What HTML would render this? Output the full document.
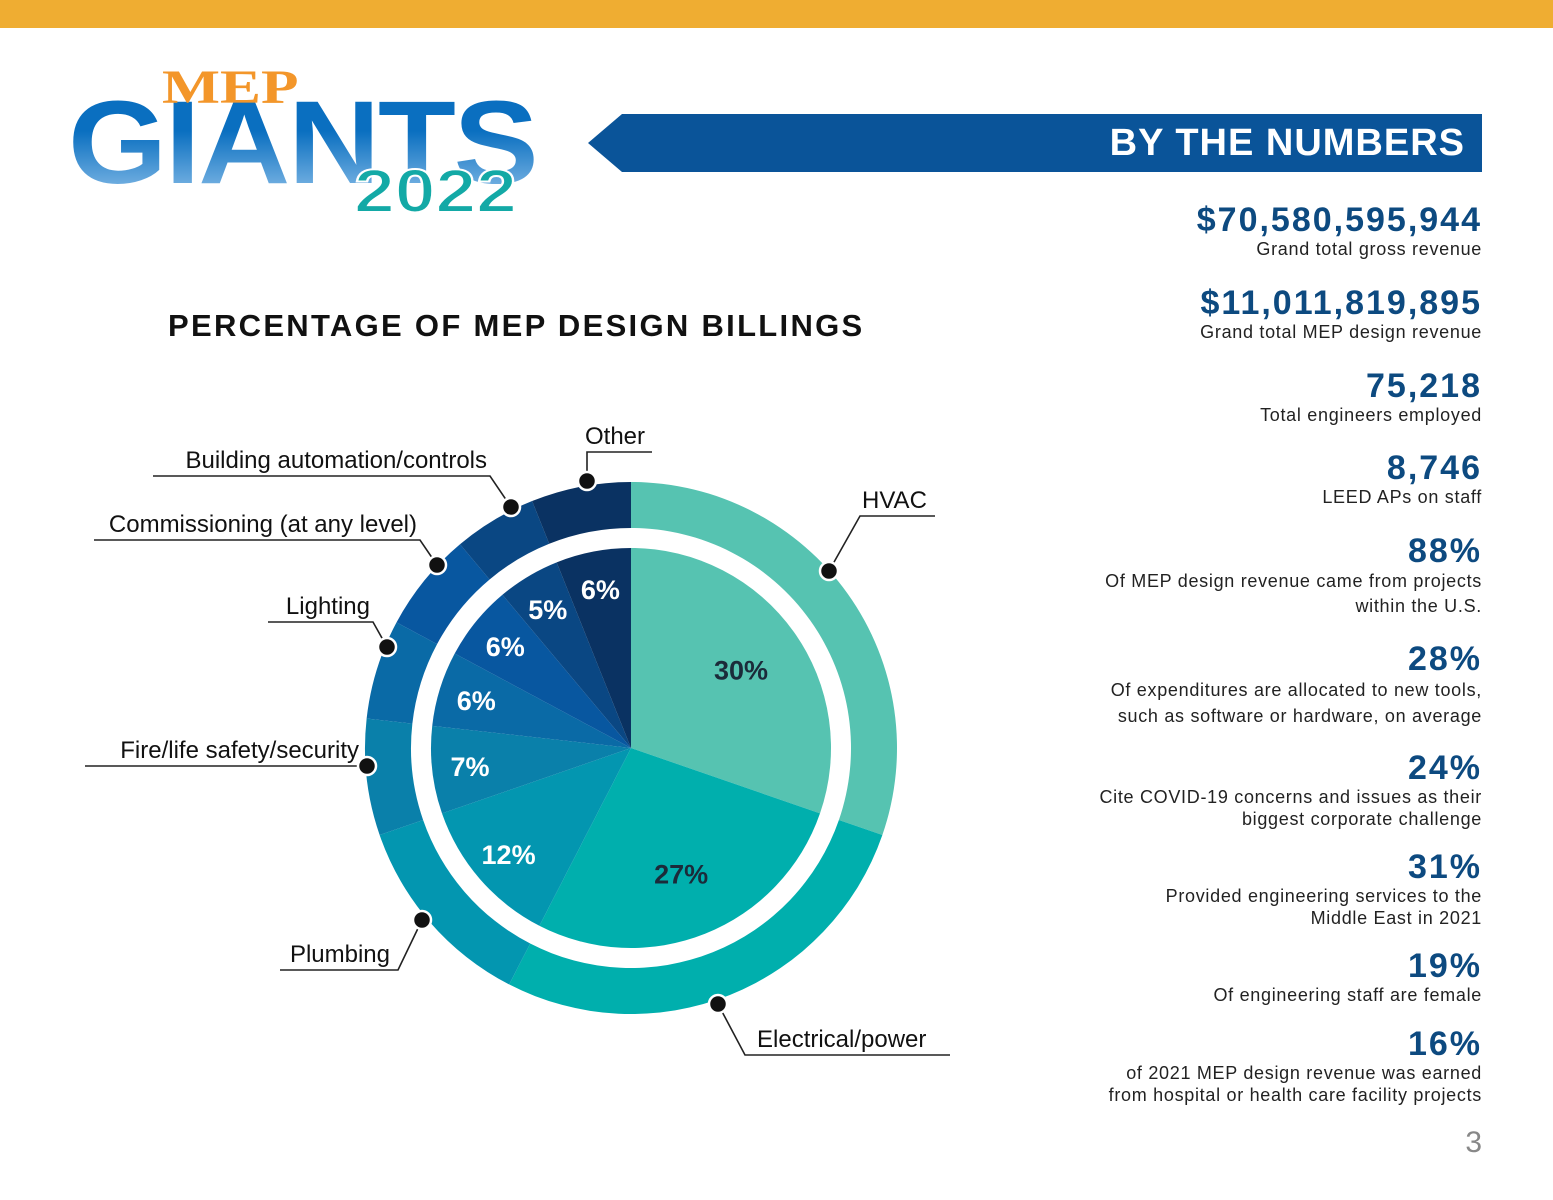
<!DOCTYPE html>
<html><head><meta charset="utf-8"><style>
body{margin:0;width:1553px;height:1200px;background:#fff;position:relative;overflow:hidden;font-family:"Liberation Sans",sans-serif}
.abs{position:absolute}
.stat{position:absolute;right:71px;text-align:right;color:#222}
.stat b{display:block;font-size:34px;color:#0d4a80;font-weight:bold;letter-spacing:2px;line-height:36px}
.stat span{display:block;font-size:18px;line-height:22px;letter-spacing:0.7px}
</style></head><body>
<div class="abs" style="left:0;top:0;width:1553px;height:28px;background:#efad32"></div>
<div>
<div class="abs" style="left:68px;top:83px;font:bold 118px 'Liberation Sans',sans-serif;letter-spacing:-2px;background:linear-gradient(#0a6fc0 40%,#8fc1ea);-webkit-background-clip:text;color:transparent;line-height:120px;transform:scaleX(1.08);transform-origin:left top">GIANTS</div>
<div class="abs" style="left:162px;top:60px;font:bold 48px 'Liberation Serif',serif;color:#f3962a;transform:scaleX(1.28);transform-origin:left top;line-height:56px">MEP</div>
<div class="abs" style="left:354px;top:158px;font:bold 61px 'Liberation Sans',sans-serif;color:#13a9a6;-webkit-text-stroke:2px #fff;line-height:66px;transform:scaleX(1.2);transform-origin:left top">2022</div>
</div>
<svg class="abs" style="left:0;top:0" width="1553" height="1200"><polygon points="622,114 1482,114 1482,172 622,172 588,143" fill="#0a5499"/></svg>
<div class="abs" style="right:88px;top:122px;color:#fff;font-weight:bold;font-size:38px;letter-spacing:1px">BY THE NUMBERS</div>
<div class="abs" style="left:168px;top:308px;font-weight:bold;font-size:31px;letter-spacing:2.3px;color:#111">PERCENTAGE OF MEP DESIGN BILLINGS</div>

<div class="stat" style="top:202px"><b>$70,580,595,944</b><span>Grand total gross revenue</span></div>
<div class="stat" style="top:285px"><b>$11,011,819,895</b><span>Grand total MEP design revenue</span></div>
<div class="stat" style="top:368px"><b>75,218</b><span>Total engineers employed</span></div>
<div class="stat" style="top:450px"><b>8,746</b><span>LEED APs on staff</span></div>
<div class="stat" style="top:533px"><b>88%</b><span style="line-height:25px">Of MEP design revenue came from projects<br>within the U.S.</span></div>
<div class="stat" style="top:641px"><b>28%</b><span style="line-height:26px">Of expenditures are allocated to new tools,<br>such as software or hardware, on average</span></div>
<div class="stat" style="top:750px"><b>24%</b><span>Cite COVID-19 concerns and issues as their<br>biggest corporate challenge</span></div>
<div class="stat" style="top:849px"><b>31%</b><span>Provided engineering services to the<br>Middle East in 2021</span></div>
<div class="stat" style="top:948px"><b>19%</b><span>Of engineering staff are female</span></div>
<div class="stat" style="top:1026px"><b>16%</b><span>of 2021 MEP design revenue was earned<br>from hospital or health care facility projects</span></div>
<div class="abs" style="right:71px;top:1126px;font-size:30px;color:#888">3</div>

<svg id="pie" class="abs" style="left:0;top:0" width="1553" height="1200"></svg>
<script>
const categories=["HVAC","Electrical/power","Plumbing","Fire/life safety/security","Lighting","Commissioning (at any level)","Building automation/controls","Other"];
const values=[30,27,12,7,6,6,5,6];
const valueLabels=["30%","27%","12%","7%","6%","6%","5%","6%"];
const colors=["#56c3b1","#00afad","#0396b0","#0a80aa","#0a6aa6","#0857a0","#0a4783","#0a3262"];
const svg=document.getElementById('pie');
const NS='http://www.w3.org/2000/svg';
const cx=631,cy=748,rPie=200,rIn=220,rOut=266;
const total=values.reduce((a,b)=>a+b,0);
function ang(v){return v/total*2*Math.PI;}
function pt(a,r){return [cx+r*Math.sin(a),cy-r*Math.cos(a)];}
function sector(a0,a1,r0,r1){const L=(a1-a0)>Math.PI?1:0;const p0=pt(a0,r1),p1=pt(a1,r1);
 if(r0===0)return `M${cx},${cy}L${p0}A${r1},${r1} 0 ${L} 1 ${p1}Z`;
 const q1=pt(a1,r0),q0=pt(a0,r0);return `M${p0}A${r1},${r1} 0 ${L} 1 ${p1}L${q1}A${r0},${r0} 0 ${L} 0 ${q0}Z`;}
let acc=0;
values.forEach((v,i)=>{const a0=ang(acc),a1=ang(acc+v);acc+=v;
 const ring=document.createElementNS(NS,'path');ring.setAttribute('d',sector(a0,a1,rIn,rOut));ring.setAttribute('fill',colors[i]);
 
 
 svg.appendChild(ring);
 const p=document.createElementNS(NS,'path');p.setAttribute('d',sector(a0,a1,0,rPie));p.setAttribute('fill',colors[i]);
 
 
 svg.appendChild(p);
 const m=(a0+a1)/2;const lp=pt(m,i<2?135:162);
 const t=document.createElementNS(NS,'text');t.setAttribute('x',lp[0]);t.setAttribute('y',lp[1]+10);t.setAttribute('text-anchor','middle');
 t.setAttribute('font-size','27');t.setAttribute('font-weight','bold');t.setAttribute('font-family','Liberation Sans, sans-serif');
 t.setAttribute('fill',i<2?'#1b2b3a':'#fff');t.textContent=valueLabels[i];
 
 
 svg.appendChild(t);});
const ann=[[0,"HVAC",829,571,860,516,935,"start"],[1,"Electrical/power",718,1004,745,1055,950,"start"],[2,"Plumbing",422,920,398,970,280,"end"],[3,"Fire/life safety/security",367,766,367,766,85,"end"],[4,"Lighting",387,647,373,622,268,"end"],[5,"Commissioning (at any level)",437,565,420,540,94,"end"],[6,"Building automation/controls",511,507,490,476,153,"end"],[7,"Other",587,481,587,452,652,"end"]];
ann.forEach(a=>{const [i,txt,dx,dy,ex,ey,lx,side]=a;
 const l=document.createElementNS(NS,'polyline');
 l.setAttribute('points',`${dx},${dy} ${ex},${ey} ${lx},${ey}`);l.setAttribute('fill','none');l.setAttribute('stroke','#222');l.setAttribute('stroke-width','1.6');
 
 
 svg.appendChild(l);
 const c=document.createElementNS(NS,'circle');c.setAttribute('cx',dx);c.setAttribute('cy',dy);c.setAttribute('r',9);c.setAttribute('fill','#111');c.setAttribute('stroke','#fff');c.setAttribute('stroke-width','2.5');
 
 
 svg.appendChild(c);
 const t=document.createElementNS(NS,'text');
 let tx;
 if(side==="start")tx=ex+(i===0?2:12);
 else if(i===7)tx=585;
 else tx=ex-((i===3||i===2)?8:3);
 t.setAttribute('x',tx);
 t.setAttribute('y',ey-8);t.setAttribute('text-anchor',i===7?'start':side);
 t.setAttribute('font-size','24');t.setAttribute('font-family','Liberation Sans, sans-serif');t.setAttribute('fill','#111');
 t.textContent=categories[i];
 
 
 svg.appendChild(t);});
</script>
</body></html>
